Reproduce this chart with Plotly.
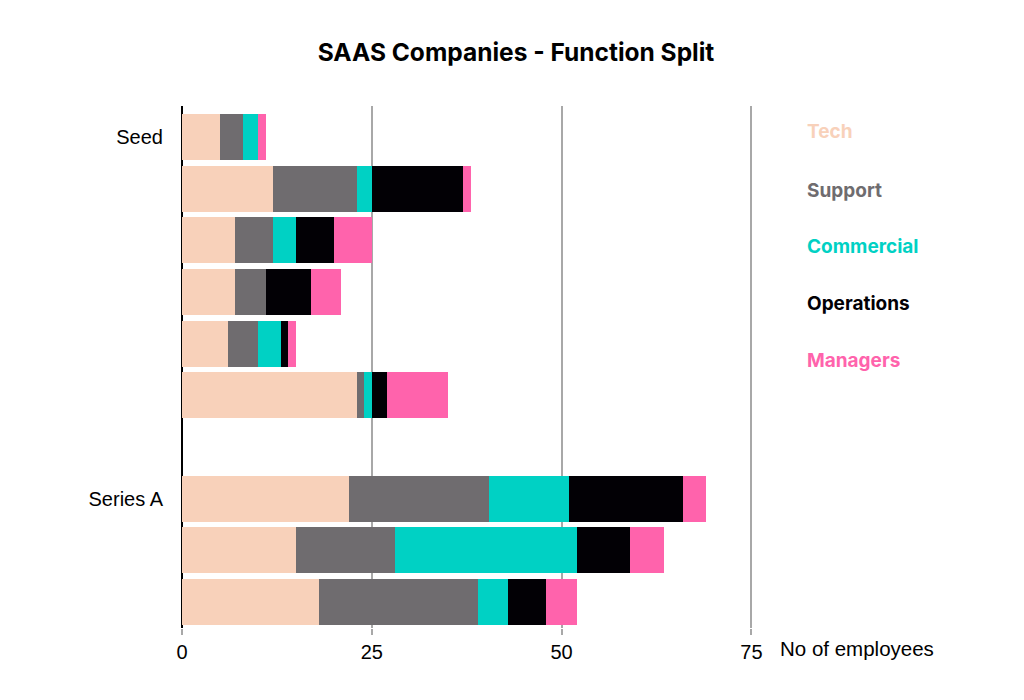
import plotly.graph_objects as go

rows = ["Seed 1", "Seed 2", "Seed 3", "Seed 4", "Seed 5", "Seed 6", "gap",
        "Series A 1", "Series A 2", "Series A 3"]
tick_rows = ["Seed 1", "Series A 1"]
tick_labels = ["Seed", "Series A"]

functions = ["Tech", "Support", "Commercial", "Operations", "Managers"]
tech = [5, 12, 7, 7, 6, 23, None, 22, 15, 18]
support = [3, 11, 5, 4, 4, 1, None, 18.5, 13, 21]
commercial = [2, 2, 3, 0, 3, 1, None, 10.5, 24, 4]
operations = [0, 12, 5, 6, 1, 2, None, 15, 7, 5]
managers = [1, 1, 5, 4, 1, 8, None, 3, 4.5, 4]
series = [tech, support, commercial, operations, managers]
colors = ["#F8D1BA", "#6F6C6F", "#00D1C4", "#020005", "#FF63AC"]

x_ticks = [0, 25, 50, 75]
X_MAX = 76

# page offset (body margin) compensation: target pixel coords minus 8
OFF = 8
X0_PX, X75_PX = 182, 751
PX_PER = (X75_PX - X0_PX) / 75
RIGHT_PX = X0_PX + PX_PER * X_MAX
PL, PR, PT, PB = X0_PX - OFF, RIGHT_PX - OFF, 106 - OFF, 628 - OFF

fig = go.Figure()
for name, vals, col in zip(functions, series, colors):
    fig.add_trace(go.Bar(
        y=rows, x=vals, name=name, orientation="h",
        marker=dict(color=col, line=dict(width=0)),
        showlegend=False, hoverinfo="x+name",
    ))

W = RIGHT_PX - X0_PX
H = 628 - 106
# legend as coloured text
legend_y = [132, 190, 246, 303, 360]
for name, col, yy in zip(functions, colors, legend_y):
    fig.add_annotation(
        text=f"<b>{name}</b>", xref="paper", yref="paper",
        x=(805 - X0_PX) / W, xanchor="left",
        y=(628 - yy) / H, yanchor="middle",
        showarrow=False, font=dict(family="Inter", size=19, color=col),
    )

fig.add_annotation(
    text="No of employees", xref="paper", yref="paper",
    x=(778 - X0_PX) / W, xanchor="left",
    y=-(648 - 628) / H, yanchor="middle",
    showarrow=False, font=dict(family="Liberation Sans", size=20.5, color="#000"),
)

fig.update_layout(
    barmode="stack",
    bargap=0.11,
    width=1024, height=700,
    margin=dict(l=PL, r=1024 - PR, t=PT, b=700 - PB, autoexpand=False),
    paper_bgcolor="white", plot_bgcolor="white",
    title=dict(text="<b>SAAS Companies - Function Split</b>", x=(516 - OFF) / 1024,
               xanchor="center", y=1 - (52 - OFF) / 700, yanchor="middle",
               font=dict(family="Inter", size=24.5, color="#000")),
    font=dict(family="Liberation Sans", size=20, color="#000"),
    xaxis=dict(range=[0, X_MAX], tickvals=x_ticks, showgrid=True, gridcolor="#A8A8A8",
               gridwidth=2, zeroline=True, zerolinecolor="#000", zerolinewidth=2,
               ticks="outside", ticklen=6, tickcolor="#A8A8A8", tickwidth=2,
               showline=False, tickfont=dict(family="Liberation Sans", size=20)),
    yaxis=dict(categoryorder="array", categoryarray=rows, range=[9.5, -0.6],
               tickvals=tick_rows, ticktext=tick_labels, showgrid=False,
               ticks="", ticklabelstandoff=18, showline=False,
               tickfont=dict(family="Liberation Sans", size=20)),
)

fig.write_html("out.html")
